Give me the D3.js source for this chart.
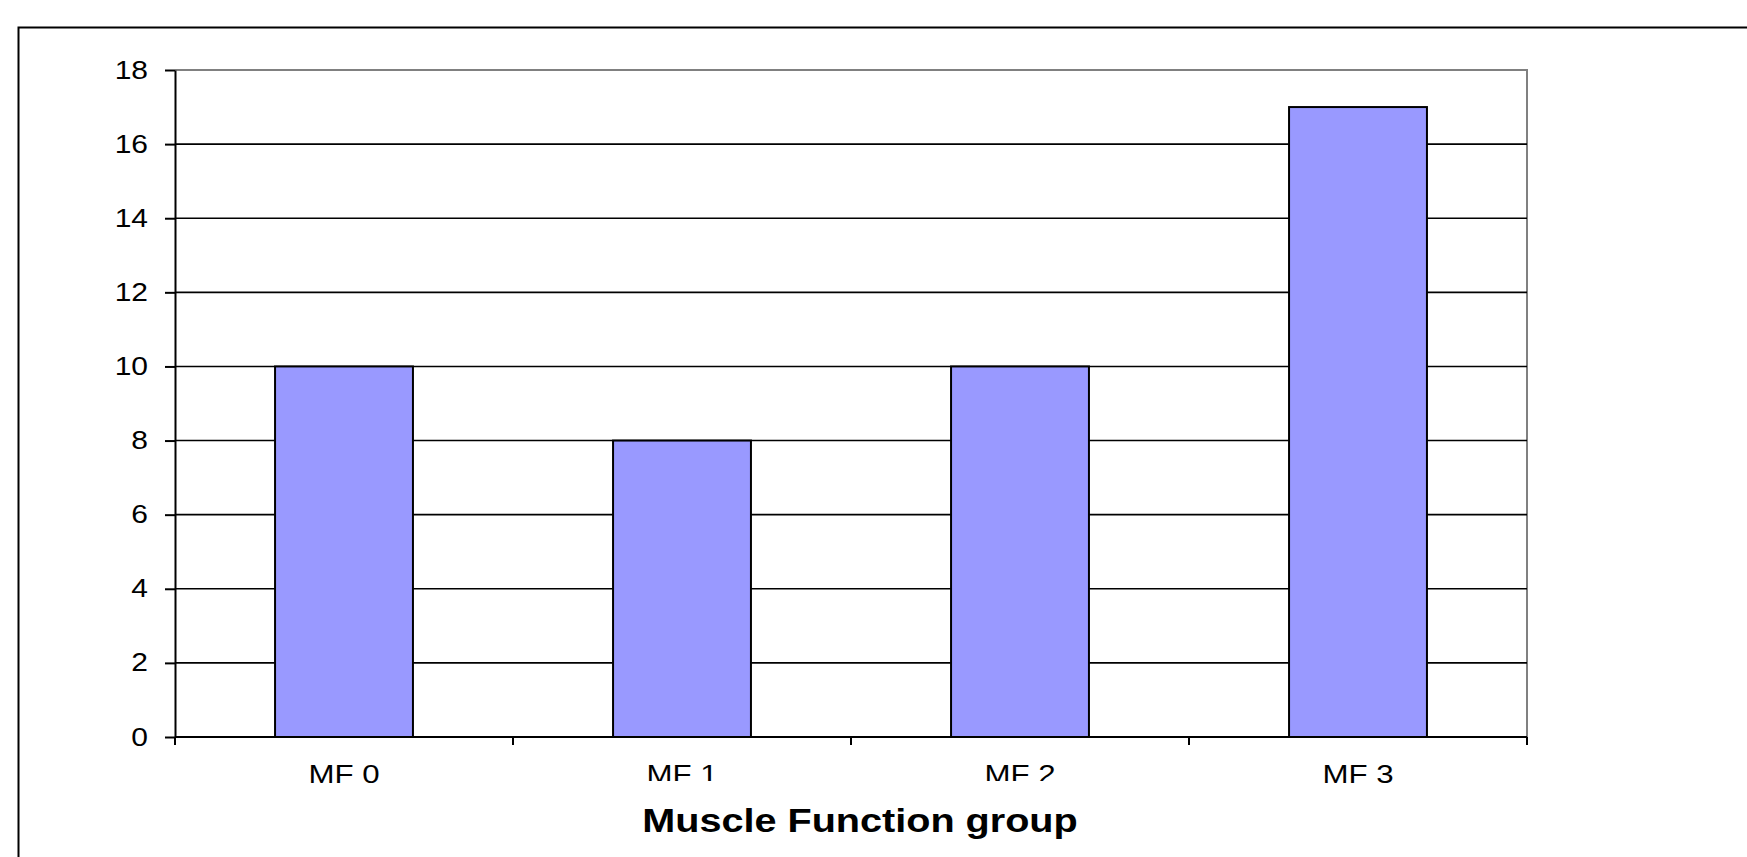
<!DOCTYPE html>
<html>
<head>
<meta charset="utf-8">
<script src="https://cdn.jsdelivr.net/npm/d3@7"></script>
<style>
  body { margin: 0; background: #fff; overflow: hidden; }
  text { font-family: "Liberation Sans", Arial, sans-serif; }
</style>
</head>
<body>
<svg id="barchart"></svg>
<script>
// chart data
var categories = ["MF 0", "MF 1", "MF 2", "MF 3"];
var counts = [10, 8, 10, 17];
var yTicks = [0, 2, 4, 6, 8, 10, 12, 14, 16, 18];
var xTitle = "Muscle Function group";

var dimensions = {
    width: 1747,
    height: 857,
    plot: { left: 175, right: 1527, top: 70, bottom: 737 }
};

var svg = d3.select("#barchart")
            .attr("width", dimensions.width)
            .attr("height", dimensions.height);

// outer chart frame (runs off the right / bottom edge)
svg.append("rect")
   .attr("x", 18.5)
   .attr("y", 27.5)
   .attr("width", 2000)
   .attr("height", 2000)
   .attr("fill", "none")
   .attr("stroke", "#000")
   .attr("stroke-width", 2);

var xScale = d3.scaleBand()
               .domain(categories)
               .range([dimensions.plot.left, dimensions.plot.right])
               .paddingInner(0.592)
               .paddingOuter(0.296);

var yScale = d3.scaleLinear()
               .domain([0, 18])
               .range([dimensions.plot.bottom, dimensions.plot.top]);

// plot area border (grey top + right)
svg.append("path")
   .attr("d", "M" + dimensions.plot.left + "," + yScale(18) + "H" + dimensions.plot.right + "V" + yScale(0))
   .attr("fill", "none")
   .attr("stroke", "#808080")
   .attr("stroke-width", 2);

// gridlines
svg.append("g")
   .selectAll("line")
   .data(yTicks.filter(d => d > 0 && d < 18))
   .enter()
   .append("line")
   .attr("x1", dimensions.plot.left)
   .attr("x2", dimensions.plot.right)
   .attr("y1", d => yScale(d))
   .attr("y2", d => yScale(d))
   .attr("stroke", "#000")
   .attr("stroke-width", 1.6);

// bars
svg.append("g")
   .selectAll("rect")
   .data(counts)
   .enter()
   .append("rect")
   .attr("x", (d, i) => xScale(categories[i]))
   .attr("y", d => yScale(d))
   .attr("width", xScale.bandwidth())
   .attr("height", d => yScale(0) - yScale(d))
   .attr("fill", "#9999ff")
   .attr("stroke", "#000")
   .attr("stroke-width", 2);

// y axis
var yAxis = svg.append("g")
   .attr("transform", "translate(" + dimensions.plot.left + ",0)")
   .call(d3.axisLeft(yScale).tickValues(yTicks).tickSize(10).tickSizeOuter(0));
yAxis.select(".domain").attr("stroke", "#000").attr("stroke-width", 2);
yAxis.selectAll(".tick line").attr("stroke", "#000").attr("stroke-width", 2);
yAxis.selectAll(".tick text")
     .attr("x", -22.5)
     .attr("transform", "scale(1.2,1)")
     .style("font-size", "25px")
     .attr("fill", "#000");

// x axis: category labels
var xAxis = svg.append("g")
   .attr("transform", "translate(0," + dimensions.plot.bottom + ")")
   .call(d3.axisBottom(xScale).tickSize(0).tickSizeOuter(0));
xAxis.select(".domain")
     .attr("d", "M" + dimensions.plot.left + ",0H" + dimensions.plot.right)
     .attr("stroke", "#000")
     .attr("stroke-width", 2);
xAxis.selectAll(".tick text")
     .attr("y", 46)
     .attr("dy", 0)
     .attr("transform", "scale(1.25,1)")
     .style("font-size", "25px")
     .attr("fill", "#000");

// x axis: ticks at category boundaries
xAxis.append("g")
     .selectAll("line")
     .data(d3.range(categories.length + 1))
     .enter()
     .append("line")
     .attr("x1", i => dimensions.plot.left + i * xScale.step())
     .attr("x2", i => dimensions.plot.left + i * xScale.step())
     .attr("y1", 0)
     .attr("y2", 8)
     .attr("stroke", "#000")
     .attr("stroke-width", 2);

// axis title with its white box (covers part of the labels)
svg.append("rect")
   .attr("x", 630)
   .attr("y", 781)
   .attr("width", 460)
   .attr("height", 76)
   .attr("fill", "#fff");

svg.append("text")
   .attr("transform", "translate(860,832) scale(1.2,1)")
   .attr("text-anchor", "middle")
   .style("font-size", "33px")
   .style("font-weight", "bold")
   .text(xTitle);
</script>
</body>
</html>
